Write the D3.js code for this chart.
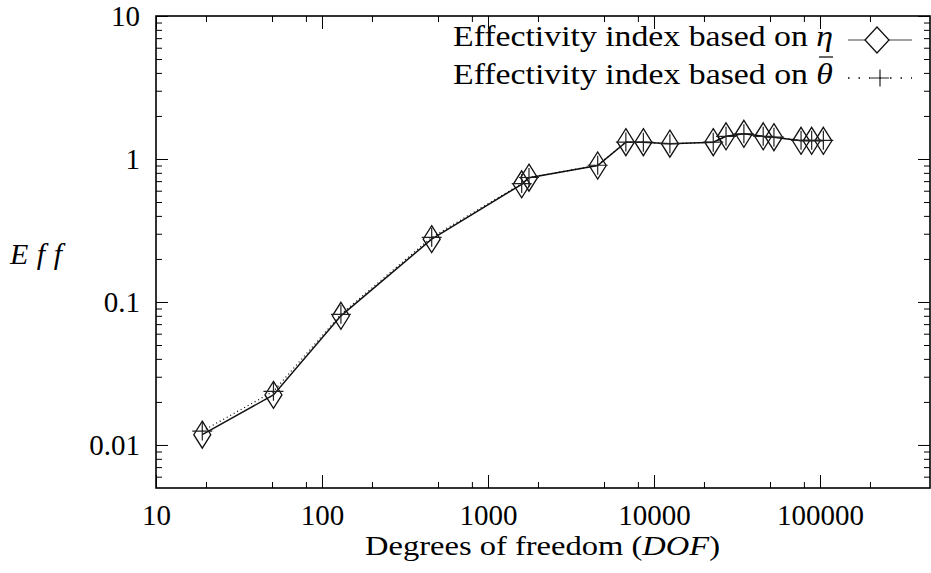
<!DOCTYPE html>
<html>
<head>
<meta charset="utf-8">
<script src="https://cdn.jsdelivr.net/npm/d3@7"></script>
<style>
  body { margin: 0; background: #fff; }
  text { font-family: "Liberation Serif", "Times New Roman", serif; fill: #000; }
</style>
</head>
<body>
<script>
// data
var dof      = [19, 51, 130, 458, 1596, 1766, 4580, 6770, 8630, 12470, 22750, 27160, 34800, 45500, 52800, 76900, 89100, 104800];
var effEta   = [0.0118, 0.0224, 0.080, 0.275, 0.665, 0.74, 0.90, 1.31, 1.31, 1.28, 1.31, 1.44, 1.50, 1.44, 1.42, 1.34, 1.34, 1.34];
var effTheta = [0.0125, 0.0237, 0.082, 0.283, 0.673, 0.742, 0.904, 1.314, 1.31, 1.28, 1.31, 1.44, 1.50, 1.44, 1.42, 1.35, 1.35, 1.35];

var xMajor = [10, 100, 1000, 10000, 100000];
var xMajorLabels = ["10", "100", "1000", "10000", "100000"];
var xMinor = [20, 50, 80, 200, 500, 800, 2000, 5000, 8000, 20000, 50000, 80000, 200000];
var yMajor = [0.01, 0.1, 1, 10];
var yMajorLabels = ["0.01", "0.1", "1", "10"];
var yMinor = [];
[0.001, 0.01, 0.1, 1].forEach(function(d) {
  d3.range(2, 10).forEach(function(k) { yMinor.push(d * k); });
});
yMinor = yMinor.filter(function(d) { return d > 0.005 && d < 10; });

// margin
var W = 931, H = 573;
var margin = {top: 16, right: 1, bottom: 85, left: 156},
    width = W - margin.left - margin.right,
    height = H - margin.top - margin.bottom;

var svg = d3.select("body").append("svg")
    .attr("width", W)
    .attr("height", H);

var x = d3.scaleLog().domain([10, 460000]).range([0, width]);
var y = d3.scaleLog().domain([0.005, 10]).range([height, 0]);

var g = svg.append("g")
    .attr("transform", "translate(" + margin.left + "," + margin.top + ")");

// ticks on all four sides, pointing inwards
function styleAxis(sel) {
  sel.attr("font-family", null).attr("font-size", 29);
  sel.select(".domain").remove();
  sel.selectAll(".tick line").attr("stroke", "#000").attr("stroke-width", 1);
}

g.append("g")
    .attr("transform", "translate(0," + height + ")")
    .call(d3.axisBottom(x).tickValues(xMajor).tickSize(-13).tickPadding(16)
      .tickFormat(function(d, i) { return xMajorLabels[i]; }))
    .call(styleAxis);
g.append("g")
    .attr("transform", "translate(0," + height + ")")
    .call(d3.axisBottom(x).tickValues(xMinor).tickSize(-6).tickFormat(""))
    .call(styleAxis);
g.append("g")
    .call(d3.axisTop(x).tickValues(xMajor).tickSize(-13).tickFormat(""))
    .call(styleAxis);
g.append("g")
    .call(d3.axisTop(x).tickValues(xMinor).tickSize(-6).tickFormat(""))
    .call(styleAxis);

g.append("g")
    .call(d3.axisLeft(y).tickValues(yMajor).tickSize(-12).tickPadding(16)
      .tickFormat(function(d, i) { return yMajorLabels[i]; }))
    .call(styleAxis);
g.append("g")
    .call(d3.axisLeft(y).tickValues(yMinor).tickSize(-6).tickFormat(""))
    .call(styleAxis);
g.append("g")
    .attr("transform", "translate(" + width + ",0)")
    .call(d3.axisRight(y).tickValues(yMajor).tickSize(-12).tickFormat(""))
    .call(styleAxis);
g.append("g")
    .attr("transform", "translate(" + width + ",0)")
    .call(d3.axisRight(y).tickValues(yMinor).tickSize(-6).tickFormat(""))
    .call(styleAxis);

// frame
g.append("rect")
    .attr("x", 0).attr("y", 0)
    .attr("width", width).attr("height", height)
    .attr("fill", "none")
    .attr("stroke", "#000")
    .attr("stroke-width", 1.6);

// lines
var etaData = dof.map(function(d, i) { return [d, effEta[i]]; });
var thetaData = dof.map(function(d, i) { return [d, effTheta[i]]; });

var line = d3.line()
    .x(function(d) { return x(d[0]); })
    .y(function(d) { return y(d[1]); });

g.append("path")
    .datum(etaData)
    .attr("d", line)
    .attr("fill", "none")
    .attr("stroke", "#111")
    .attr("stroke-width", 1.5);

g.append("path")
    .datum(thetaData)
    .attr("d", line)
    .attr("fill", "none")
    .attr("stroke", "#000")
    .attr("stroke-width", 1.2)
    .attr("stroke-dasharray", "1,3");

// point shapes
function diamond(w, h) {
  return "M0," + (-h / 2) + "L" + (w / 2) + ",0L0," + (h / 2) + "L" + (-w / 2) + ",0Z";
}
function cross(w, h) {
  return "M" + (-w / 2) + ",0H" + (w / 2) + "M0," + (-h / 2) + "V" + (h / 2);
}

g.selectAll(".eta")
    .data(etaData)
  .enter().append("path")
    .attr("class", "eta")
    .attr("transform", function(d) { return "translate(" + x(d[0]) + "," + y(d[1]) + ")"; })
    .attr("d", diamond(17, 27))
    .attr("fill", "none")
    .attr("stroke", "#111")
    .attr("stroke-width", 1.3);

g.selectAll(".theta")
    .data(thetaData)
  .enter().append("path")
    .attr("class", "theta")
    .attr("transform", function(d) { return "translate(" + x(d[0]) + "," + y(d[1]) + ")"; })
    .attr("d", cross(20, 19))
    .attr("fill", "none")
    .attr("stroke", "#222")
    .attr("stroke-width", 1.2);

// legend
var legend = svg.append("g");

var t1 = legend.append("text")
    .attr("x", 453).attr("y", 46)
    .attr("font-size", 30)
    .attr("textLength", 380)
    .attr("lengthAdjust", "spacingAndGlyphs");
t1.append("tspan").text("Effectivity index based on ");
t1.append("tspan").attr("font-style", "italic").text("η");

var t2 = legend.append("text")
    .attr("x", 453).attr("y", 84)
    .attr("font-size", 30)
    .attr("textLength", 380)
    .attr("lengthAdjust", "spacingAndGlyphs");
t2.append("tspan").text("Effectivity index based on ");
t2.append("tspan").attr("font-style", "italic").text("θ");
// bar over theta
legend.append("line")
    .attr("x1", 819).attr("x2", 833)
    .attr("y1", 57).attr("y2", 57)
    .attr("stroke", "#000").attr("stroke-width", 1.2);

legend.append("line")
    .attr("x1", 848).attr("x2", 912)
    .attr("y1", 40).attr("y2", 40)
    .attr("stroke", "#444").attr("stroke-width", 1.2);
legend.append("path")
    .attr("transform", "translate(877,40)")
    .attr("d", diamond(24, 26))
    .attr("fill", "#fff")
    .attr("stroke", "#111")
    .attr("stroke-width", 1.3);

legend.append("line")
    .attr("x1", 848).attr("x2", 912)
    .attr("y1", 78).attr("y2", 78)
    .attr("stroke", "#000").attr("stroke-width", 1.3)
    .attr("stroke-dasharray", "1.5,9");
legend.append("path")
    .attr("transform", "translate(880,78)")
    .attr("d", cross(18, 17))
    .attr("fill", "none")
    .attr("stroke", "#222")
    .attr("stroke-width", 1.2);

// axis titles
var xt = svg.append("text")
    .attr("x", 365).attr("y", 555)
    .attr("font-size", 28)
    .attr("textLength", 355)
    .attr("lengthAdjust", "spacingAndGlyphs");
xt.append("tspan").text("Degrees of freedom (");
xt.append("tspan").attr("font-style", "italic").text("DOF");
xt.append("tspan").text(")");

svg.append("text")
    .attr("x", 10).attr("y", 264)
    .attr("font-size", 30)
    .attr("font-style", "italic")
    .attr("textLength", 52)
    .attr("lengthAdjust", "spacing")
    .text("Eff");
</script>
</body>
</html>
